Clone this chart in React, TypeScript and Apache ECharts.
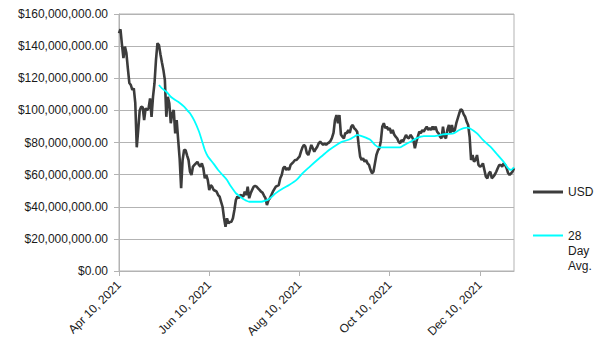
import React, { useEffect, useRef } from "react";
import * as echarts from "echarts";

// Daily USD values (millions), starting Apr 10, 2021
const startYear = 2021;
const startMonth = 3; // April (0-based)
const startDay = 10;
const usd = [
  148, 150.5, 141, 132.6, 139.7, 135.7, 126, 117, 115.8, 112.7,
  113.7, 104.6, 77, 88, 100, 102.3, 102, 94, 101.3, 100.2,
  101.3, 107.5, 96, 108.5, 116.9, 131.4, 141.8, 140.7, 135, 130,
  125.2, 119, 96, 108.5, 104.4, 92, 98, 100.2, 85.7, 94,
  81.6, 70, 51.5, 69.1, 75.3, 75.3, 72, 69.1, 61.8, 59.8,
  65, 66, 67, 68, 66, 65, 67, 64, 57.7, 59.8,
  56.7, 50.4, 53.5, 52.5, 50.4, 50, 49.4, 47.3, 46.3, 43.1,
  40, 33, 27.6, 32.8, 29.7, 30.5, 30.7, 32.8, 38, 44.2,
  46.3, 45.3, 47.3, 47, 46.3, 49.4, 47.3, 52.5, 45.3, 48.4,
  50.5, 52.5, 52.9, 52.5, 51.5, 50.5, 49.4, 48.8, 47, 45.3,
  41.1, 44, 45.3, 47.3, 49.4, 51, 52.5, 53, 53.5, 57.7,
  59.8, 64, 65, 62.9, 64, 62.9, 66, 67, 68, 69.1,
  69.1, 70.2, 71.2, 74.3, 77, 78.5, 77.4, 73.3, 72.2, 75.3,
  78.5, 76.4, 74.3, 76, 77.4, 79.5, 80.5, 79.5, 78.5, 79.5,
  78.5, 79.5, 80, 81, 83, 86, 94, 97.1, 92, 97.1,
  85, 83.6, 82.6, 86, 85.7, 87.8, 86, 89.9, 90.9, 88.9,
  88, 86.7, 78.5, 71.2, 69.1, 70.2, 68, 69.1, 67, 66,
  63, 60.8, 61.8, 67, 72.2, 75, 76.4, 81, 90, 92,
  88.9, 89.9, 87.8, 88.9, 85.7, 87.8, 85, 83.6, 82.6, 80.5,
  79.5, 81.6, 80.5, 82.6, 84.7, 83, 82.6, 84.7, 83.6, 81.6,
  76.4, 80.5, 83.6, 86.7, 85.7, 87.8, 86.7, 88.5, 89.9, 87.8,
  88.9, 87.8, 89.9, 88, 89.9, 86.7, 85.7, 83.6, 82.6, 89.9,
  83.6, 82.6, 88, 90.9, 85.7, 90.9, 86.7, 87.8, 92, 95.1,
  98.2, 100.7, 100, 97.5, 96, 93, 90.9, 83.6, 69.1, 72.2,
  68, 69.1, 72.2, 66, 65, 65.5, 67, 62.9, 58.7, 57.7,
  60.8, 61.8, 57.7, 58.7, 60, 61.8, 64, 66, 66, 65,
  67, 66, 64, 61, 59.8, 60.8, 61.8, 64,
];

// 28 Day Avg. (millions), read at these day indexes
const avgDay = [
  27, 29, 32, 35, 38, 40, 44, 47, 48, 51,
  54, 56, 58, 60, 64, 67, 70, 73,
  75, 77, 79, 82, 84, 86, 88, 93, 96, 99,
  101, 103, 106, 111, 115, 120, 124, 129, 134, 138,
  142, 147, 151, 156, 159, 161, 165, 170, 173, 176,
  183, 190, 193, 197, 201, 206, 213, 219, 226, 230,
  235, 237, 242, 246, 251, 255, 260, 263, 265, 267,
];
const avgValue = [
  115.8, 113.7, 111.6, 108.5, 106.5, 105.4, 102.3, 99.2, 98.2, 93.5,
  87, 81.3, 75.3, 71.5, 66.7, 62.9, 59.8, 56.7,
  53.5, 50.9, 48.4, 46.3, 44.8, 43.8, 43.1, 43.1, 43.1, 43.8,
  44.6, 46, 48.5, 51.5, 53.5, 56.7, 60.8, 65, 69.1, 72.2,
  75.3, 78.5, 80.5, 82, 83.6, 84.7, 83.6, 81.6, 78.5, 77,
  77, 77, 78.5, 80.5, 82.6, 84, 84, 85.1, 85.7, 87.8,
  89.2, 88.9, 85.7, 81.6, 77.4, 73.3, 68, 64, 62.9, 64.6,
];

const monthNames = ["Jan", "Feb", "Mar", "Apr", "May", "Jun", "Jul", "Aug", "Sep", "Oct", "Nov", "Dec"];
const yMin = 0;
const yMax = 160;
const yInterval = 20;

const FONT = "'Liberation Sans', Arial, sans-serif";

export default function App() {
  const ref = useRef<HTMLDivElement>(null);
  useEffect(() => {
    if (!ref.current) return;
    const chart = echarts.init(ref.current, null, { renderer: "svg" });
    const categories = usd.map((_, i) => {
      const d = new Date(Date.UTC(startYear, startMonth, startDay + i));
      return `${monthNames[d.getUTCMonth()]} ${d.getUTCDate()}, ${d.getUTCFullYear()}`;
    });
    const fmtMoney = (v: number) =>
      "$" + (v * 1e6).toLocaleString("en-US", { minimumFractionDigits: 2, maximumFractionDigits: 2 });
    chart.setOption({
      animation: false,
      backgroundColor: "#ffffff",
      textStyle: { fontFamily: FONT },
      grid: {
        left: 119,
        right: 90,
        top: 14,
        bottom: 83,
        containLabel: false,
        show: true,
        borderColor: "#b3b3b3",
        borderWidth: 1,
      },
      xAxis: {
        type: "category",
        data: categories,
        boundaryGap: false,
        axisLine: { show: true, lineStyle: { color: "#b3b3b3", width: 1 } },
        axisTick: { show: true, interval: 60, length: 5, lineStyle: { color: "#b3b3b3" } },
        axisLabel: {
          interval: 60,
          rotate: 45,
          margin: 12,
          color: "#1a1a1a",
          fontSize: 12,
          fontFamily: FONT,
        },
        splitLine: { show: false },
      },
      yAxis: {
        type: "value",
        min: yMin,
        max: yMax,
        interval: yInterval,
        axisLine: { show: true, lineStyle: { color: "#b3b3b3", width: 1 } },
        axisTick: { show: true, length: 5, lineStyle: { color: "#b3b3b3" } },
        axisLabel: {
          margin: 11,
          color: "#1a1a1a",
          fontSize: 12,
          fontFamily: FONT,
          formatter: (v: number) => fmtMoney(v),
        },
        splitLine: { show: true, lineStyle: { color: "#b3b3b3", width: 1 } },
      },
      series: [
        {
          name: "USD",
          type: "line",
          data: usd,
          showSymbol: false,
          symbol: "none",
          lineStyle: { color: "#3c3c3c", width: 2.6 },
          itemStyle: { color: "#3c3c3c" },
          z: 2,
        },
        {
          name: "28 Day Avg.",
          type: "line",
          data: avgDay.map((d, i) => [d, avgValue[i]]),
          showSymbol: false,
          symbol: "none",
          smooth: 0.2,
          lineStyle: { color: "#00ffff", width: 1.8 },
          itemStyle: { color: "#00ffff" },
          z: 3,
        },
      ],
      graphic: [
        {
          type: "line",
          shape: { x1: 533, y1: 192, x2: 563, y2: 192 },
          style: { stroke: "#3c3c3c", lineWidth: 3 },
        },
        {
          type: "text",
          x: 568,
          y: 192,
          style: {
            text: "USD",
            fill: "#1a1a1a",
            font: `12px ${FONT}`,
            verticalAlign: "middle",
          },
        },
        {
          type: "line",
          shape: { x1: 533, y1: 235.5, x2: 563, y2: 235.5 },
          style: { stroke: "#00ffff", lineWidth: 2 },
        },
        {
          type: "text",
          x: 568,
          y: 228,
          style: {
            text: "28\nDay\nAvg.",
            fill: "#1a1a1a",
            font: `12px ${FONT}`,
            lineHeight: 15,
            verticalAlign: "top",
          },
        },
      ],
    });
    return () => chart.dispose();
  }, []);
  return <div ref={ref} style={{ width: 604, height: 354, position: "absolute", left: 0, top: 0 }} />;
}
